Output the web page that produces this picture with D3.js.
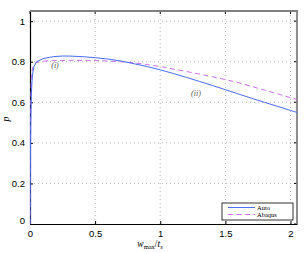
<!DOCTYPE html>
<html><head><meta charset="utf-8">
<script src="https://cdn.jsdelivr.net/npm/d3@7"></script>
<style>body{margin:0;background:#fff}svg{display:block}</style>
</head><body>
<script>
const autoX = [0,0.003,0.006,0.01,0.015,0.02,0.03,0.05,0.1,0.15,0.2,0.25,0.3,0.4,0.5,0.6,0.7,0.8,0.9,1.0,1.1,1.2,1.3,1.4,1.5,1.6,1.7,1.8,1.9,2.0,2.05];
const autoY = [0,0.3,0.5,0.63,0.7,0.74,0.775,0.8,0.815,0.822,0.826,0.828,0.828,0.825,0.82,0.813,0.803,0.79,0.776,0.76,0.742,0.723,0.703,0.683,0.662,0.641,0.62,0.6,0.58,0.56,0.55];
const abaqusX = [0,0.003,0.006,0.01,0.02,0.04,0.1,0.2,0.3,0.5,0.7,0.8,0.9,1.0,1.2,1.4,1.5,1.6,1.8,2.0,2.05];
const abaqusY = [0,0.4,0.6,0.72,0.77,0.795,0.803,0.806,0.807,0.806,0.8,0.794,0.786,0.776,0.752,0.726,0.712,0.697,0.66,0.623,0.614];
const xTicks = [0,0.5,1,1.5,2];
const xTickLabels = ["0","0.5","1","1.5","2"];
const yTicks = [0,0.2,0.4,0.6,0.8,1];
const yTickLabels = ["0","0.2","0.4","0.6","0.8","1"];
const seriesNames = ["Auto","Abaqus"];

const W=304,H=253;
const L=30,R=297,T=11,B=224;
const x=d3.scaleLinear().domain([0,2.05]).range([L,R]);
const y=d3.scaleLinear().domain([0,1.05]).range([B,T]);
const svg=d3.select("body").append("svg").attr("width",W).attr("height",H);

// grid
const g=svg.append("g");
g.selectAll(".gx").data(xTicks.slice(1)).join("line")
 .attr("x1",d=>x(d)).attr("x2",d=>x(d)).attr("y1",T).attr("y2",B)
 .attr("stroke","#999").attr("stroke-width",0.7).attr("stroke-dasharray","1,3");
g.selectAll(".gy").data(yTicks.slice(1)).join("line")
 .attr("y1",d=>y(d)).attr("y2",d=>y(d)).attr("x1",L).attr("x2",R)
 .attr("stroke","#999").attr("stroke-width",0.7).attr("stroke-dasharray","1,3");

// axes with inward ticks
const ax=svg.append("g").attr("transform",`translate(0,${B})`)
 .call(d3.axisBottom(x).tickValues(xTicks).tickFormat((d,i)=>xTickLabels[i]).tickSizeInner(-3).tickSizeOuter(0).tickPadding(6));
const ay=svg.append("g").attr("transform",`translate(${L},0)`)
 .call(d3.axisLeft(y).tickValues(yTicks).tickFormat((d,i)=>yTickLabels[i]).tickSizeInner(-3).tickSizeOuter(0).tickPadding(5));
[ax,ay].forEach(a=>{a.selectAll("text").attr("font-family","Liberation Sans, Arial, sans-serif").attr("font-size",9.5).attr("fill","#000");
 a.select(".domain").attr("stroke","#000").attr("stroke-width",1.2);
 a.selectAll(".tick line").attr("stroke","#000");});
ay.selectAll(".tick").filter(d=>d===0).select("text").attr("dy","-0.1em");
// top/right ticks
svg.append("g").selectAll("line").data(xTicks).join("line")
 .attr("x1",d=>x(d)).attr("x2",d=>x(d)).attr("y1",T).attr("y2",T+3).attr("stroke","#000");
svg.append("g").selectAll("line").data(yTicks).join("line")
 .attr("y1",d=>y(d)).attr("y2",d=>y(d)).attr("x1",R).attr("x2",R-3).attr("stroke","#000");
// top and right border gray
svg.append("line").attr("x1",L).attr("x2",R+1).attr("y1",T).attr("y2",T).attr("stroke","#808080").attr("stroke-width",1.8);
svg.append("line").attr("x1",R).attr("x2",R).attr("y1",T).attr("y2",B).attr("stroke","#808080").attr("stroke-width",1.8);

// curves
const lineA=d3.line().x((d,i)=>x(autoX[i])).y(d=>y(d));
svg.append("clipPath").attr("id","c").append("rect").attr("x",L).attr("y",T).attr("width",R-L).attr("height",B-T);
svg.append("path").attr("clip-path","url(#c)").datum(abaqusY)
 .attr("d",d3.line().x((d,i)=>x(abaqusX[i])).y(d=>y(d)))
 .attr("fill","none").attr("stroke","#d070f0").attr("stroke-width",1).attr("stroke-dasharray","5,3.5");
svg.append("path").attr("clip-path","url(#c)").datum(autoY).attr("d",lineA)
 .attr("fill","none").attr("stroke","#4a6cf7").attr("stroke-width",1);

// annotations
svg.append("text").attr("x",55).attr("y",68).attr("text-anchor","middle")
 .attr("font-family","Liberation Serif, serif").attr("font-style","italic").attr("font-size",8).attr("fill","#555").text("(i)");
svg.append("text").attr("x",196).attr("y",95.5).attr("text-anchor","middle")
 .attr("font-family","Liberation Serif, serif").attr("font-style","italic").attr("font-size",8).attr("fill","#555").text("(ii)");

// labels
svg.append("text").attr("transform","translate(9,119) rotate(-90)").attr("text-anchor","middle")
 .attr("font-family","Liberation Serif, serif").attr("font-style","italic").attr("font-size",10).text("p");
const xl=svg.append("text").attr("x",150).attr("y",247).attr("text-anchor","middle")
 .attr("font-family","Liberation Serif, serif").attr("font-size",9.5);
xl.append("tspan").attr("font-style","italic").text("w");
xl.append("tspan").attr("font-size",6.5).attr("dy",2).text("max");
xl.append("tspan").attr("dy",-2).text("/");
xl.append("tspan").attr("font-style","italic").text("t");
xl.append("tspan").attr("font-style","italic").attr("font-size",6.5).attr("dy",2).text("s");

// legend
const lg=svg.append("g");
lg.append("rect").attr("x",222).attr("y",203).attr("width",71).attr("height",17)
 .attr("fill","#fff").attr("stroke","#000").attr("stroke-width",0.8);
const colors=["#4a6cf7","#d070f0"], dashes=[null,"5,3.5"];
seriesNames.forEach((n,i)=>{
 const yy=207.5+i*7;
 lg.append("line").attr("x1",228).attr("x2",255).attr("y1",yy).attr("y2",yy)
  .attr("stroke",colors[i]).attr("stroke-width",1).attr("stroke-dasharray",dashes[i]);
 lg.append("text").attr("x",257).attr("y",yy+2).attr("font-family","Liberation Serif, serif")
  .attr("font-size",6.5).text(n);
});
</script>
</body></html>
